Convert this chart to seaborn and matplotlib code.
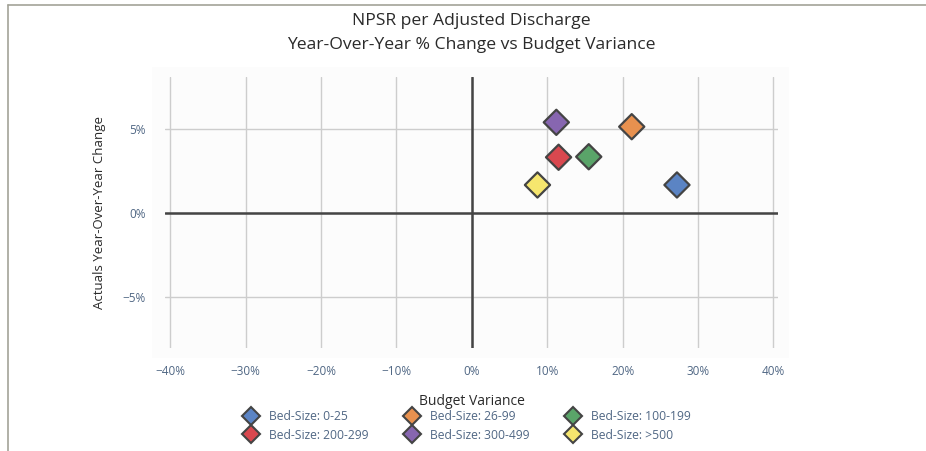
import matplotlib
matplotlib.use("Agg")
import matplotlib.pyplot as plt
from matplotlib.lines import Line2D
from matplotlib.patches import Rectangle
from matplotlib.ticker import FuncFormatter
import seaborn as sns
import pandas as pd

# ---- data ----
categories = ["Bed-Size: 0-25", "Bed-Size: 26-99", "Bed-Size: 100-199",
              "Bed-Size: 200-299", "Bed-Size: 300-499", "Bed-Size: >500"]
budget_variance = [27.2, 21.2, 15.5, 11.5, 11.2, 8.7]
yoy_change = [1.65, 5.12, 3.33, 3.30, 5.38, 1.65]
colors = ["#5b84c4", "#e8914f", "#5aa469", "#d9484f", "#8766b0", "#f6e66e"]
x_ticks = [-40, -30, -20, -10, 0, 10, 20, 30, 40]
y_ticks = [-5, 0, 5]

df = pd.DataFrame({"category": categories, "x": budget_variance, "y": yoy_change})

sns.set_theme(style="white")
plt.rcParams["font.family"] = ["Open Sans", "DejaVu Sans"]

W, H = 926, 451
fig = plt.figure(figsize=(W / 100, H / 100), dpi=100)

# light plot background (behind axes)
fig.patches.append(Rectangle((152 / W, 1 - 358 / H), (789 - 152) / W, (358 - 67) / H,
                             transform=fig.transFigure, facecolor="#fcfcfc",
                             edgecolor="none", zorder=0))

# axes area in pixels: left 165, right 778, top 77, bottom 348
ax = fig.add_axes([165 / W, 1 - 348 / H, (778 - 165) / W, (348 - 77) / H])
ax.set_zorder(2)
ax.patch.set_alpha(0)

ax.set_xlim(-40.7, 40.6)
ax.set_ylim(-8.06, 8.08)
ax.set_xticks(x_ticks)
ax.set_yticks(y_ticks)
ax.grid(True, color="#cdcdcd", linewidth=1.0)
ax.set_axisbelow(True)
ax.axhline(0, color="#444444", linewidth=1.8, zorder=1)
ax.axvline(0, color="#444444", linewidth=1.8, zorder=1)

sns.scatterplot(data=df, x="x", y="y", hue="category", palette=colors,
                hue_order=categories, marker="D", s=165, edgecolor="#444444",
                linewidth=1.6, ax=ax, legend=False, zorder=3)

for s in ax.spines.values():
    s.set_visible(False)
ax.tick_params(axis="both", length=0, labelsize=8.5, labelcolor="#506784", pad=12)
ax.tick_params(axis="y", pad=14)
ax.xaxis.set_major_formatter(FuncFormatter(lambda v, p: f"{int(v)}%".replace("-", "\u2212")))
ax.yaxis.set_major_formatter(FuncFormatter(lambda v, p: f"{int(v)}%".replace("-", "\u2212")))

ax.set_xlabel("Budget Variance", fontsize=10, color="#2a2a2a", labelpad=12)
ax.set_ylabel("Actuals Year-Over-Year Change", fontsize=9.5, color="#2a2a2a", labelpad=12)

fig.text(471 / W, 1 - 21 / H, "NPSR per Adjusted Discharge", ha="center", va="center",
         fontsize=12.6, color="#2a2a2a")
fig.text(471 / W, 1 - 45 / H, "Year-Over-Year % Change vs Budget Variance", ha="center",
         va="center", fontsize=12.6, color="#2a2a2a")

# legend (row-wise order)
handles = [Line2D([0], [0], marker="D", linestyle="none", markersize=9.5,
                  markerfacecolor=c, markeredgecolor="#444444", markeredgewidth=1.5)
           for c in colors]
order = [0, 3, 1, 4, 2, 5]
leg = fig.legend([handles[i] for i in order], [categories[i] for i in order],
                 loc="center", bbox_to_anchor=(467 / W, 1 - 426 / H), ncol=3,
                 frameon=False, fontsize=8.7, labelcolor="#506784",
                 handletextpad=0.9, columnspacing=3.0, labelspacing=0.45,
                 handlelength=1.2)

# panel border lines
fig.add_artist(Line2D([8 / W, 1], [1 - 5 / H, 1 - 5 / H], transform=fig.transFigure,
                      color="#a3a398", linewidth=1.2))
fig.add_artist(Line2D([8 / W, 8 / W], [1 - 5 / H, 0], transform=fig.transFigure,
                      color="#a3a398", linewidth=1.2))

fig.savefig("out.png", dpi=100)
